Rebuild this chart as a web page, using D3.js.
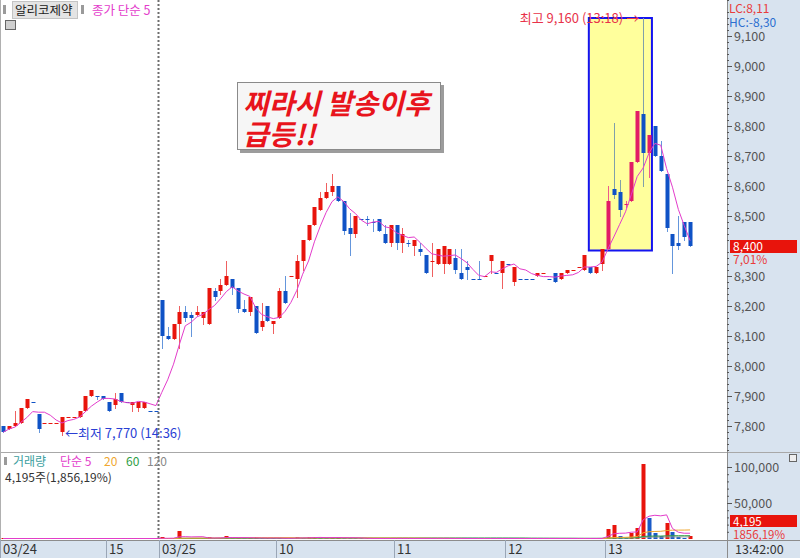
<!DOCTYPE html>
<html>
<head>
<meta charset="utf-8">
<script src="https://cdn.jsdelivr.net/npm/d3@7"></script>
<style>
  body { margin: 0; background: #fff; }
  svg { display: block; font-family: 'Noto Sans CJK KR', 'Noto Sans', sans-serif; }
</style>
</head>
<body>
<svg id="chart" width="800" height="558"></svg>
<script>
// 3-minute candles, 03/24 afternoon + 03/25 up to 13:42
var opens = [
    7800, 7790, 7800, 7810, 7860, 7880, 7840, 7810, 7810, 7810,
    7780, 7830, 7830, 7830, 7850, 7900, 7900, 7900, 7880, 7870,
    7910, 7880, 7870, 7860, 7860, 7850, 7850,
    8220, 8100, 8090, 8140, 8180, 8170, 8170, 8160, 8140, 8250,
    8250, 8270, 8290, 8260, 8190, 8180, 8200, 8130, 8200, 8140,
    8160, 8250, 8300, 8290, 8350, 8420, 8470, 8520, 8560, 8580,
    8600, 8550, 8460, 8440, 8490, 8490, 8480, 8490, 8440, 8410,
    8470, 8410, 8410, 8400, 8390, 8370, 8350, 8340, 8340, 8340,
    8360, 8310, 8330, 8290, 8290, 8300, 8350, 8310, 8310, 8340,
    8280, 8290, 8290, 8290, 8300, 8310, 8290, 8310, 8290, 8310,
    8320, 8330, 8320, 8330, 8310, 8340, 8390, 8590, 8580, 8540,
    8550, 8680, 8840, 8710, 8800, 8700, 8640, 8440, 8410, 8480, 8480
];
var highs = [
    7800, 7800, 7850, 7860, 7890, 7880, 7840, 7810, 7810, 7810,
    7830, 7830, 7830, 7850, 7900, 7920, 7900, 7900, 7880, 7910,
    7910, 7880, 7880, 7880, 7880, 7850, 7850,
    8220, 8130, 8140, 8200, 8200, 8180, 8200, 8180, 8260, 8260,
    8290, 8350, 8290, 8260, 8220, 8230, 8200, 8210, 8200, 8150,
    8260, 8300, 8300, 8370, 8420, 8470, 8530, 8580, 8610, 8640,
    8600, 8550, 8510, 8500, 8490, 8500, 8490, 8490, 8470, 8470,
    8470, 8460, 8420, 8420, 8410, 8370, 8410, 8390, 8400, 8390,
    8390, 8390, 8350, 8290, 8350, 8300, 8370, 8310, 8350, 8340,
    8330, 8290, 8290, 8290, 8310, 8310, 8290, 8310, 8310, 8320,
    8320, 8330, 8370, 8330, 8330, 8390, 8600, 8810, 8620, 8550,
    8680, 8850, 9160, 8770, 8800, 8750, 8640, 8440, 8500, 8480, 8480
];
var lows = [
    7780, 7790, 7800, 7810, 7860, 7880, 7780, 7810, 7810, 7810,
    7770, 7830, 7830, 7830, 7850, 7900, 7890, 7890, 7850, 7860,
    7880, 7880, 7850, 7850, 7860, 7850, 7850,
    8060, 8090, 8090, 8060, 8150, 8100, 8170, 8140, 8140, 8220,
    8240, 8270, 8240, 8180, 8180, 8170, 8110, 8120, 8150, 8110,
    8160, 8210, 8300, 8230, 8320, 8420, 8470, 8520, 8560, 8570,
    8550, 8440, 8370, 8430, 8490, 8470, 8450, 8450, 8410, 8400,
    8390, 8380, 8400, 8370, 8370, 8310, 8300, 8340, 8310, 8340,
    8310, 8290, 8290, 8290, 8290, 8300, 8310, 8310, 8260, 8340,
    8270, 8290, 8290, 8290, 8300, 8310, 8290, 8280, 8290, 8310,
    8320, 8330, 8320, 8310, 8310, 8320, 8390, 8560, 8500, 8530,
    8550, 8680, 8600, 8630, 8700, 8650, 8450, 8310, 8390, 8420, 8400
];
var closes = [
    7780, 7800, 7810, 7860, 7890, 7880, 7790, 7810, 7810, 7810,
    7830, 7830, 7830, 7850, 7900, 7920, 7900, 7890, 7850, 7890,
    7880, 7880, 7880, 7880, 7880, 7850, 7850,
    8100, 8090, 8140, 8180, 8160, 8160, 8180, 8180, 8260, 8230,
    8270, 8300, 8260, 8190, 8180, 8230, 8110, 8150, 8150, 8150,
    8250, 8210, 8300, 8350, 8420, 8470, 8530, 8560, 8580, 8600,
    8550, 8450, 8440, 8500, 8490, 8490, 8480, 8450, 8410, 8470,
    8410, 8440, 8410, 8420, 8380, 8310, 8350, 8390, 8400, 8390,
    8320, 8290, 8320, 8290, 8290, 8300, 8370, 8310, 8350, 8340,
    8330, 8290, 8290, 8290, 8310, 8310, 8290, 8280, 8310, 8320,
    8320, 8330, 8370, 8310, 8330, 8390, 8550, 8570, 8520, 8540,
    8680, 8850, 8710, 8770, 8700, 8650, 8460, 8400, 8400, 8430, 8400
];
var volumes = [
    420, 180, 350, 900, 600, 150, 1100, 120, 90, 100,
    800, 60, 80, 300, 1200, 500, 100, 150, 700, 400,
    500, 100, 200, 350, 300, 1500, 200,
    2500, 600, 900, 11000, 1200, 900, 1500, 1300, 2200, 900,
    1500, 4000, 1600, 1800, 700, 1200, 2500, 800, 1400, 600,
    1500, 900, 600, 2500, 1800, 2200, 2800, 1600, 1200, 2000,
    2600, 1900, 1400, 1100, 300, 400, 500, 700, 900, 600,
    1000, 800, 300, 700, 900, 1200, 500, 900, 700, 600,
    800, 900, 400, 200, 300, 200, 700, 200, 900,
    200, 800, 150, 150, 150, 300, 200, 150, 500, 400,
    300, 200, 200, 800, 500, 400, 1800,
    14000, 19400, 4200, 1500, 8300, 15300, 104000, 29000, 8300, 4200,
    22000, 9700, 2800, 1400, 4195
];

var timeTickIndex = [0, 18, 27, 47, 67, 86, 103];
var timeTickLabels = ['03/24', '15', '03/25', '10', '11', '12', '13'];
var dayBreakIndex = 27;
var priceTicks = d3.range(7800, 9101, 100);
var volumeTicks = [50000, 100000];
var volumeMaPeriods = [5, 20, 60, 120];

var highMark = { index: 109, price: 9160, label: '최고 9,160 (13:18) →' };
var lowMark = { index: 10, price: 7770, label: '←최저 7,770 (14:36)' };
var surgeBox = { from: 99.75, to: 110.5, low: 8385, high: 9160 };
var lastPrice = { price: 8400, text: '8,400', change: '7,01%' };
var lastVolume = { text: '4,195', ratio: '1856,19%' };

var svg = d3.select('#chart'),
    width = 800,
    height = 558,
    plotRight = 727,
    priceBottom = 452,
    volBottom = 540,
    step = 5.87,
    upColor = '#e8140c',
    downColor = '#0f52c6',
    panelColor = '#d8e3ef';

var x = d3.scaleLinear().domain([0, closes.length - 1]).range([3.3, 3.3 + (closes.length - 1) * step]);
var yPrice = d3.scaleLinear().domain([7800, 9100]).range([426, 36]);
var yVol = d3.scaleLinear().domain([0, 100000]).range([539, 467]);

function candleUp(i) {
    if (closes[i] > opens[i]) return true;
    if (closes[i] < opens[i]) return false;
    if (i === 0) return true;
    if (closes[i] > closes[i - 1]) return true;
    if (closes[i] < closes[i - 1]) return false;
    return candleUp(i - 1);
}

function movingAverage(values, n) {
    return values.map(function(v, i) {
        return d3.mean(values.slice(Math.max(0, i - n + 1), i + 1));
    });
}

// backgrounds and frames
svg.append('rect').attr('width', width).attr('height', height).attr('fill', '#fff');
svg.append('rect').attr('x', plotRight).attr('y', 0).attr('width', width - plotRight).attr('height', height).attr('fill', panelColor);
svg.append('rect').attr('x', 0).attr('y', volBottom).attr('width', plotRight).attr('height', height - volBottom).attr('fill', panelColor);

svg.append('line').attr('x1', 0).attr('x2', width).attr('y1', priceBottom + 0.5).attr('y2', priceBottom + 0.5).attr('stroke', '#a8a8a8');
svg.append('line').attr('x1', 0).attr('x2', width).attr('y1', volBottom + 0.5).attr('y2', volBottom + 0.5).attr('stroke', '#8c8c8c');
svg.append('line').attr('x1', plotRight + 0.5).attr('x2', plotRight + 0.5).attr('y1', 0).attr('y2', height).attr('stroke', '#8c8c8c');
svg.append('line').attr('x1', 0.5).attr('x2', 0.5).attr('y1', 0).attr('y2', volBottom).attr('stroke', '#b0b0b0');

// highlight box (drawn under candles)
var boxX0 = x(surgeBox.from), boxX1 = x(surgeBox.to);
svg.append('rect')
    .attr('x', boxX0).attr('y', yPrice(surgeBox.high))
    .attr('width', boxX1 - boxX0).attr('height', yPrice(surgeBox.low) - yPrice(surgeBox.high))
    .attr('fill', '#ffff9c')
    .attr('stroke', '#1414f0')
    .attr('stroke-width', 2);

function inBox(i) {
    var cx = x(i);
    return cx > boxX0 && cx < boxX1 && Math.min(opens[i], closes[i]) >= surgeBox.low;
}

// candles
var idx = d3.range(closes.length);
var candles = svg.append('g').attr('class', 'candles');

candles.selectAll('line')
    .data(idx)
    .enter().append('line')
    .attr('x1', function(i) { return Math.round(x(i)) + 0.5; })
    .attr('x2', function(i) { return Math.round(x(i)) + 0.5; })
    .attr('y1', function(i) { return Math.round(yPrice(highs[i])); })
    .attr('y2', function(i) { return Math.round(yPrice(lows[i])) + 1; })
    .attr('stroke', function(i) {
        if (inBox(i)) return candleUp(i) ? '#ec5a8c' : '#80a0aa';
        return candleUp(i) ? '#ef6060' : '#6496dc';
    })
    .attr('stroke-width', 1);

candles.selectAll('rect')
    .data(idx)
    .enter().append('rect')
    .attr('x', function(i) { return Math.round(x(i)) - 1.5; })
    .attr('width', 4)
    .attr('y', function(i) { return Math.round(yPrice(Math.max(opens[i], closes[i]))); })
    .attr('height', function(i) {
        return Math.max(1, Math.round(yPrice(Math.min(opens[i], closes[i]))) - Math.round(yPrice(Math.max(opens[i], closes[i]))));
    })
    .attr('fill', function(i) {
        if (candleUp(i)) return inBox(i) ? '#e21c66' : upColor;
        return downColor;
    });

// close MA 5
var priceMa = movingAverage(closes, 5);
svg.append('path')
    .datum(idx)
    .attr('fill', 'none')
    .attr('stroke', '#e33ccb')
    .attr('stroke-width', 1)
    .attr('d', d3.line()
        .x(function(i) { return x(i); })
        .y(function(i) { return yPrice(priceMa[i]); }));

// day separator
var breakX = Math.round(x(dayBreakIndex - 0.5)) - 0.5;
svg.append('line')
    .attr('x1', breakX).attr('x2', breakX)
    .attr('y1', 0).attr('y2', volBottom)
    .attr('stroke', '#6e6e6e')
    .attr('stroke-width', 2)
    .attr('stroke-dasharray', '2,2');

// high / low marks
svg.append('text')
    .attr('x', x(highMark.index) - 4)
    .attr('y', yPrice(highMark.price) + 5)
    .attr('text-anchor', 'end')
    .attr('font-size', 13)
    .attr('fill', '#e8324a')
    .text(highMark.label);

svg.append('text')
    .attr('x', x(lowMark.index) + 3)
    .attr('y', yPrice(lowMark.price) + 3)
    .attr('font-size', 13)
    .attr('fill', '#2a3fd4')
    .text(lowMark.label);

// comment box
var note = svg.append('g').attr('class', 'note');
note.append('rect').attr('x', 240).attr('y', 85).attr('width', 204).attr('height', 68).attr('fill', '#9c9c9c');
note.append('rect').attr('x', 237.5).attr('y', 82.5).attr('width', 203).attr('height', 67)
    .attr('fill', '#f6f6f6').attr('stroke', '#8a8a8a');
note.selectAll('text')
    .data(['찌라시 발송이후', '급등!!'])
    .enter().append('text')
    .attr('x', 243)
    .attr('y', function(d, i) { return 114 + i * 31; })
    .attr('font-size', 28)
    .attr('font-weight', 700)
    .attr('font-style', 'italic')
    .attr('fill', '#e8141c')
    .text(function(d) { return d; });

// volume bars
svg.append('g').attr('class', 'volume')
    .selectAll('rect')
    .data(idx)
    .enter().append('rect')
    .attr('x', function(i) { return Math.round(x(i)) - 1.5; })
    .attr('width', 4)
    .attr('y', function(i) { return Math.min(Math.round(yVol(volumes[i])), 538); })
    .attr('height', function(i) { return 539 - Math.min(Math.round(yVol(volumes[i])), 538); })
    .attr('fill', function(i) {
        return (i === 0 || volumes[i] >= volumes[i - 1]) ? upColor : '#1a5ac8';
    });

var volMaColors = ['#e33ccb', '#f0a830', '#2e9e44', '#9a9a9a'];
volumeMaPeriods.slice().reverse().forEach(function(n, k) {
    var ma = movingAverage(volumes, n);
    svg.append('path')
        .datum(idx)
        .attr('fill', 'none')
        .attr('stroke', volMaColors[volumeMaPeriods.length - 1 - k])
        .attr('stroke-width', 1)
        .attr('d', d3.line()
            .x(function(i) { return x(i); })
            .y(function(i) { return Math.min(yVol(ma[i]), 538.5); }));
});

// right price axis
function styleAxis(g) {
    g.select('.domain').remove();
    g.selectAll('line').attr('stroke', '#555');
    g.selectAll('text').attr('fill', '#555').attr('font-size', 12.5)
        .attr('font-family', "'Noto Sans CJK KR', 'Noto Sans', sans-serif");
}

var minorPrice = d3.range(7720, 9221, 20).filter(function(v) { return v % 100 !== 0; });
svg.append('g')
    .attr('transform', 'translate(' + plotRight + ',0)')
    .call(d3.axisRight(yPrice).tickValues(minorPrice).tickSize(2).tickFormat(''))
    .call(styleAxis);
// the label under the last-price tag is covered, so it is left out
svg.append('g')
    .attr('transform', 'translate(' + plotRight + ',0)')
    .call(d3.axisRight(yPrice).tickValues(priceTicks.filter(function(v) { return v !== lastPrice.price; }))
        .tickSize(5).tickPadding(2).tickFormat(d3.format(',')))
    .call(styleAxis);

var minorVol = d3.range(10000, 100001, 10000).filter(function(v) { return v % 50000 !== 0; });
svg.append('g')
    .attr('transform', 'translate(' + plotRight + ',0)')
    .call(d3.axisRight(yVol).tickValues(minorVol).tickSize(2).tickFormat(''))
    .call(styleAxis);
svg.append('g')
    .attr('transform', 'translate(' + plotRight + ',0)')
    .call(d3.axisRight(yVol).tickValues(volumeTicks).tickSize(5).tickPadding(2).tickFormat(d3.format(',')))
    .call(styleAxis);

// last price / volume tags
var py = Math.round(yPrice(lastPrice.price));
svg.append('rect').attr('x', 730).attr('y', py - 6).attr('width', 67).attr('height', 13).attr('fill', '#e8140c');
svg.append('text').attr('x', 733).attr('y', py + 5).attr('font-size', 12).attr('fill', '#fff').text(lastPrice.text);
svg.append('text').attr('x', 733).attr('y', py + 18).attr('font-size', 12).attr('fill', '#e83c3c').text(lastPrice.change);

svg.append('rect').attr('x', 730).attr('y', 515).attr('width', 67).attr('height', 12).attr('fill', '#e8140c');
svg.append('text').attr('x', 733).attr('y', 525.5).attr('font-size', 11.5).attr('fill', '#fff').text(lastVolume.text);
svg.append('text').attr('x', 733).attr('y', 538.5).attr('font-size', 11.5).attr('fill', '#e83c3c').text(lastVolume.ratio);

svg.append('text').attr('x', 729).attr('y', 13).attr('font-size', 12).attr('fill', '#e83c3c').text('LC:8,11');
svg.append('text').attr('x', 729).attr('y', 27).attr('font-size', 12).attr('fill', '#2c6fd0').text('HC:-8,30');
svg.append('rect').attr('x', 789.5).attr('y', 454.5).attr('width', 7).attr('height', 7).attr('fill', '#eee').attr('stroke', '#666');

// time axis
var timeAxis = svg.append('g').attr('class', 'time-axis');
timeTickIndex.forEach(function(i, k) {
    var tx = Math.round(x(i - 0.5));
    timeAxis.append('line')
        .attr('x1', tx + 0.5).attr('x2', tx + 0.5)
        .attr('y1', volBottom).attr('y2', height)
        .attr('stroke', '#9aa6b6');
    timeAxis.append('text')
        .attr('x', Math.max(tx, 0) + 3)
        .attr('y', 554)
        .attr('font-size', 13)
        .attr('fill', '#333')
        .text(timeTickLabels[k]);
});
svg.append('text').attr('x', 735).attr('y', 554).attr('font-size', 12.5).attr('fill', '#333').text('13:42:00');

// price legend
svg.append('rect').attr('x', 3).attr('y', 5).attr('width', 3).attr('height', 9).attr('fill', '#9a9a9a');
svg.append('rect').attr('x', 12.5).attr('y', 1.5).attr('width', 65).attr('height', 17).attr('fill', '#e4e4e4').attr('stroke', '#c4c4c4');
svg.append('text').attr('x', 15).attr('y', 14.5).attr('font-size', 12.5).attr('fill', '#222').text('알리코제약');
svg.append('rect').attr('x', 81).attr('y', 5).attr('width', 3).attr('height', 9).attr('fill', '#9a9a9a');
svg.append('text').attr('x', 92).attr('y', 14.5).attr('font-size', 12.5).attr('fill', '#e33ccb').text('종가 단순 5');
svg.append('rect').attr('x', 5.5).attr('y', 20.5).attr('width', 10).attr('height', 9).attr('fill', '#cfcfcf').attr('stroke', '#666');

// volume legend
svg.append('rect').attr('x', 4).attr('y', 457).attr('width', 3).attr('height', 8).attr('fill', '#9a9a9a');
var volLegend = [
    { text: '거래량', color: '#3a9e9e', x: 13 },
    { text: '단순 5', color: '#e33ccb', x: 60 },
    { text: '20', color: '#f0a830', x: 104 },
    { text: '60', color: '#2e9e44', x: 126 },
    { text: '120', color: '#888', x: 147 }
];
svg.selectAll('.vol-legend')
    .data(volLegend)
    .enter().append('text')
    .attr('class', 'vol-legend')
    .attr('x', function(d) { return d.x; })
    .attr('y', 465.5)
    .attr('font-size', 12)
    .attr('fill', function(d) { return d.color; })
    .text(function(d) { return d.text; });
svg.append('text').attr('x', 5).attr('y', 481.5).attr('font-size', 12).attr('fill', '#333').text('4,195주(1,856,19%)');
</script>
</body>
</html>
